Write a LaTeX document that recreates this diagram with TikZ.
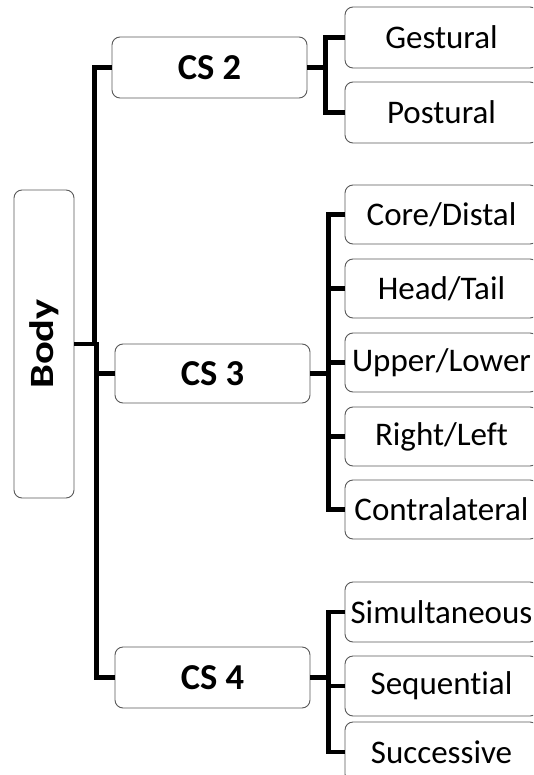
\documentclass[tikz,border=0pt]{standalone}
\usepackage{fontspec}
\setmainfont[Ligatures=NoCommon]{Carlito}
\begin{document}
\begin{tikzpicture}[x=1pt,y=-1pt]
\tikzset{
  box/.style={draw=black!65, line width=0.9pt, rounded corners=8pt, fill=white, inner sep=0pt},
  csbox/.style={box, minimum width=195pt, font=\fontsize{36.5}{36.5}\selectfont\bfseries},
  leaf/.style={box, minimum width=193pt, font=\fontsize{33}{33}\selectfont},
  conn/.style={line width=4.5pt, black},
}
\useasboundingbox (0,0) rectangle (533,775);
\clip (0,0) rectangle (533,775);
% root
\node[box, minimum width=60pt, minimum height=308pt, font=\fontsize{34}{34}\selectfont\bfseries] (body) at (44,344) {\rotatebox{90}{\scalebox{1.25}[1]{Body}}};
% second level
\node[csbox, minimum height=61pt] (cs2) at (209.5,67.5) {CS 2};
\node[csbox, minimum height=59pt] (cs3) at (212.5,373.5) {CS 3};
\node[csbox, minimum height=61pt] (cs4) at (212.5,677.5) {CS 4};
% leaves
\node[leaf, minimum height=61pt] (ges) at (441.5,37.5) {Gestural};
\node[leaf, minimum height=61pt] (pos) at (441.5,112.5) {Postural};
\node[leaf, minimum height=59pt] (cor) at (441.5,214.5) {Core/Distal};
\node[leaf, minimum height=59pt] (hea) at (441.5,288.5) {Head/Tail};
\node[leaf, minimum height=59pt] (upp) at (441.5,362.5) {Upper/Lower};
\node[leaf, minimum height=59pt] (rig) at (441.5,436.5) {Right/Left};
\node[leaf, minimum height=59pt] (con) at (441.5,509.5) {Contralateral};
\node[leaf, minimum height=60pt] (sim) at (441.5,612) {Simultaneous};
\node[leaf, minimum height=60pt] (seq) at (441.5,686) {Sequential};
\node[leaf, minimum height=60pt] (suc) at (441.5,752) {Successive};
% connectors
\draw[conn] (body.east) -- ++(20,0) |- (cs2.west);
\draw[conn] (body.east) -- ++(22,0) |- (cs3.west);
\draw[conn] (body.east) -- ++(22,0) |- (cs4.west);
\foreach \t in {ges,pos}{\draw[conn] (cs2.east) -- ++(18,0) |- (\t.west);}
\foreach \t in {cor,hea,upp,rig,con}{\draw[conn] (cs3.east) -- ++(18,0) |- (\t.west);}
\foreach \t in {sim,seq,suc}{\draw[conn] (cs4.east) -- ++(18,0) |- (\t.west);}
\end{tikzpicture}
\end{document}
